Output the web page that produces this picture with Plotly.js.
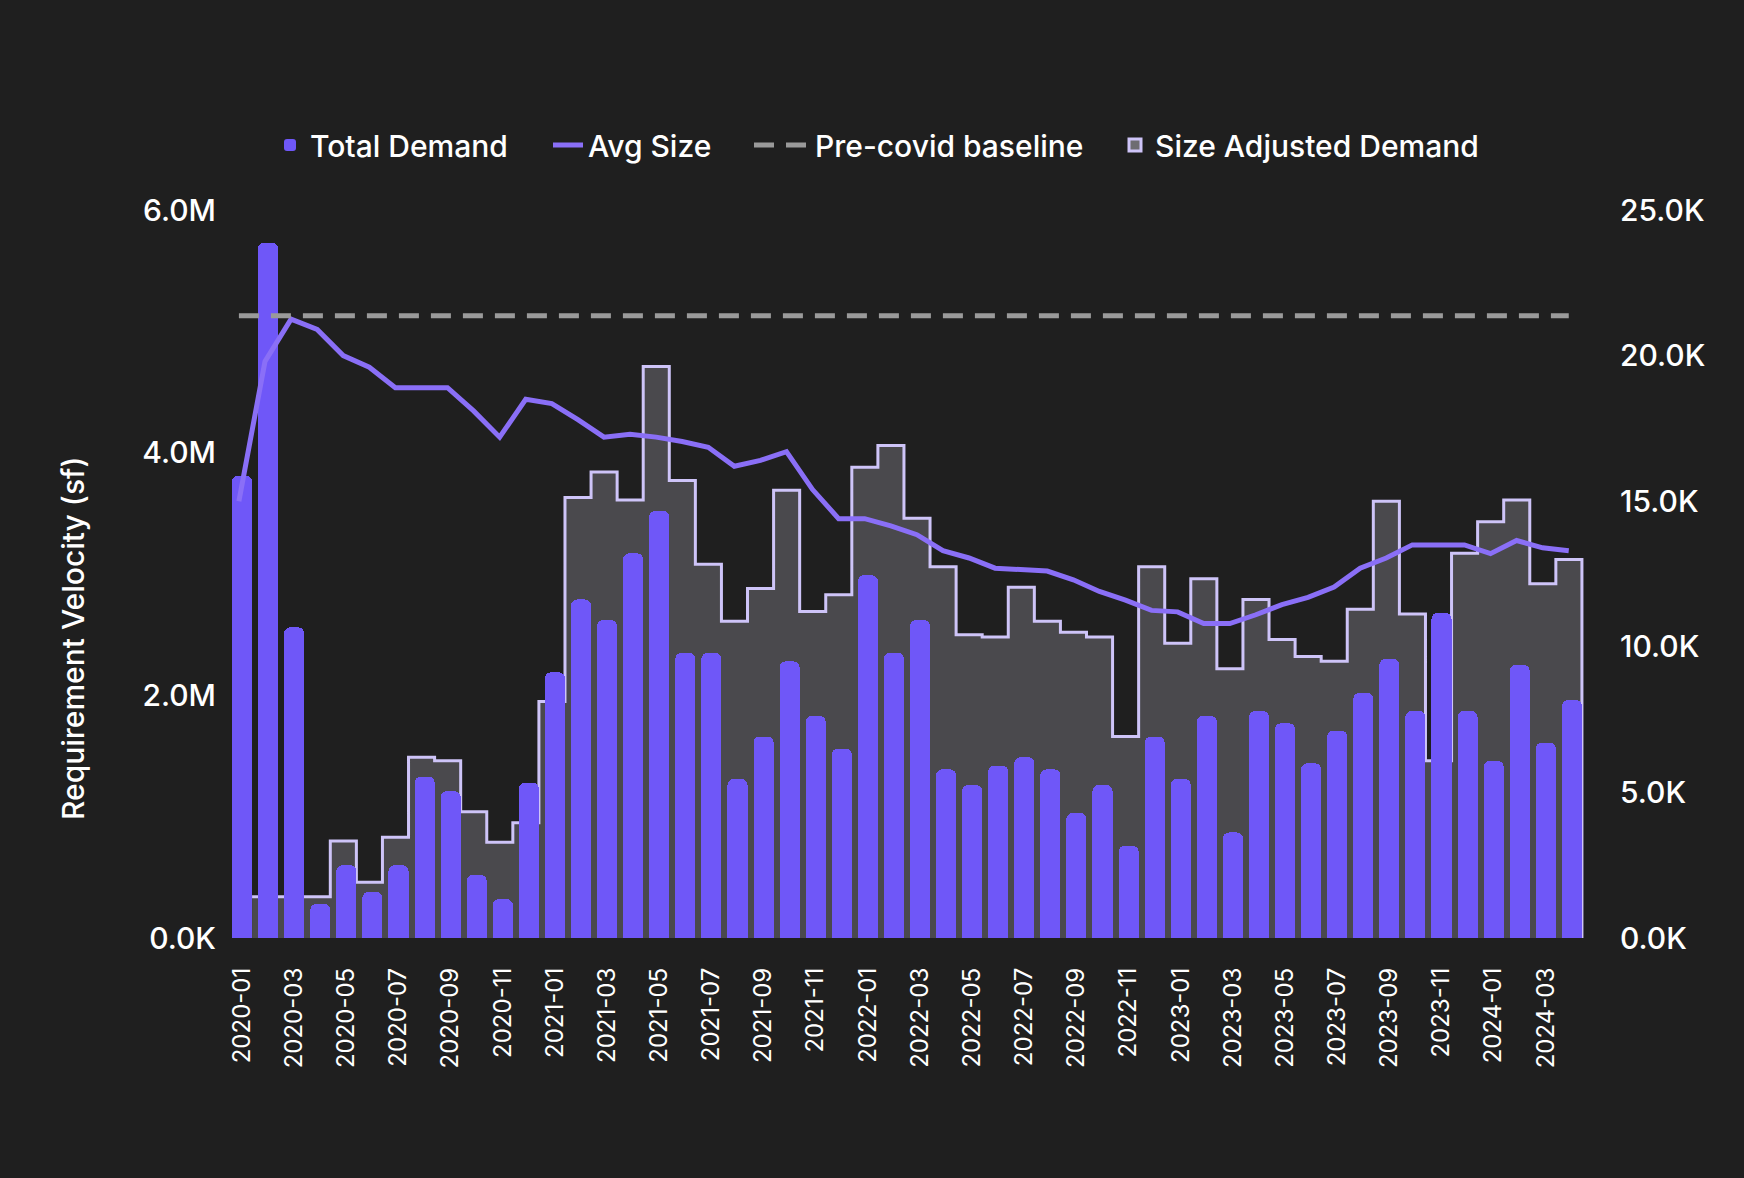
<!DOCTYPE html>
<html>
<head>
<meta charset="utf-8">
<script src="https://cdn.plot.ly/plotly-3.0.1.min.js"></script>
<style>
  html, body { margin: 0; padding: 0; background: #1f1f1f; }
  #chart { width: 1744px; height: 1178px; }
</style>
</head>
<body>
<div id="chart"></div>
<script>
let months = [
  "2020-01", "2020-02", "2020-03", "2020-04", "2020-05", "2020-06", "2020-07", "2020-08", "2020-09", "2020-10", "2020-11", "2020-12",
  "2021-01", "2021-02", "2021-03", "2021-04", "2021-05", "2021-06", "2021-07", "2021-08", "2021-09", "2021-10", "2021-11", "2021-12",
  "2022-01", "2022-02", "2022-03", "2022-04", "2022-05", "2022-06", "2022-07", "2022-08", "2022-09", "2022-10", "2022-11", "2022-12",
  "2023-01", "2023-02", "2023-03", "2023-04", "2023-05", "2023-06", "2023-07", "2023-08", "2023-09", "2023-10", "2023-11", "2023-12",
  "2024-01", "2024-02", "2024-03", "2024-04"
];

// total demand, millions of sf
let totalDemand = [
  3.81, 5.73, 2.56, 0.28, 0.60, 0.38, 0.60, 1.33, 1.21, 0.52, 0.32, 1.28,
  2.19, 2.79, 2.62, 3.17, 3.52, 2.35, 2.35, 1.31, 1.66, 2.28, 1.83, 1.56,
  2.99, 2.35, 2.62, 1.39, 1.26, 1.42, 1.49, 1.39, 1.03, 1.26, 0.76, 1.66,
  1.31, 1.83, 0.87, 1.87, 1.77, 1.44, 1.71, 2.02, 2.30, 1.87, 2.68, 1.87,
  1.46, 2.25, 1.61, 1.96
];

// size adjusted demand, millions of sf
let sizeAdjusted = [
  0.34, 0.34, 0.34, 0.34, 0.80, 0.46, 0.83, 1.49, 1.46, 1.04, 0.79, 0.95,
  1.95, 3.63, 3.84, 3.61, 4.71, 3.77, 3.08, 2.61, 2.88, 3.69, 2.69, 2.83,
  3.88, 4.06, 3.46, 3.06, 2.50, 2.48, 2.89, 2.61, 2.52, 2.48, 1.66, 3.06,
  2.43, 2.96, 2.22, 2.79, 2.46, 2.32, 2.28, 2.71, 3.60, 2.67, 1.46, 3.17,
  3.43, 3.61, 2.92, 3.12
];

// average requirement size, thousands of sf
let avgSize = [
  15.0, 19.8, 21.25, 20.9, 20.0, 19.6, 18.9, 18.9, 18.9, 18.1, 17.2, 18.5,
  18.35, 17.8, 17.2, 17.3, 17.2, 17.05, 16.85, 16.2, 16.4, 16.7, 15.4, 14.4,
  14.4, 14.15, 13.85, 13.3, 13.05, 12.7, 12.65, 12.6, 12.3, 11.9, 11.6, 11.25,
  11.2, 10.8, 10.8, 11.1, 11.45, 11.7, 12.05, 12.7, 13.05, 13.5, 13.5, 13.5,
  13.2, 13.65, 13.4, 13.3
];

let preCovidBaseline = 21.37; // thousands of sf

let leftTicks = [0, 2, 4, 6];
let leftTickText = ["0.0K", "2.0M", "4.0M", "6.0M"];
let rightTicks = [0, 5, 10, 15, 20, 25];
let rightTickText = ["0.0K", "5.0K", "10.0K", "15.0K", "20.0K", "25.0K"];

let font = "Inter, Lato, sans-serif";
let idx = months.map((m, i) => i);

// steps change at the right edge of each bar
let barWidth = 0.77;
let stepX = idx.map((i) => i + barWidth / 2);
let stepY = sizeAdjusted.map((v) => v * 1e6);
stepX.push(stepX[stepX.length - 1]);
stepY.push(0);

let lineX = idx.map((i) => i - 0.12);
let tickIdx = idx.filter((i) => i % 2 === 0);

let traces = [
  {
    type: "bar",
    name: "Total Demand",
    legend: "legend",
    x: idx,
    y: totalDemand.map((v) => v * 1e6),
    width: barWidth,
    yaxis: "y2",
    marker: { color: "#6f57f8", cornerradius: 6, line: { width: 0 } },
    hoverinfo: "skip",
  },
  {
    type: "scatter",
    mode: "lines",
    name: "Avg Size",
    legend: "legend2",
    x: lineX,
    y: avgSize.map((v) => v * 1000),
    yaxis: "y3",
    line: { color: "#8a6ff7", width: 5 },
    hoverinfo: "skip",
  },
  {
    type: "scatter",
    mode: "lines",
    name: "Pre-covid baseline",
    legend: "legend3",
    x: lineX,
    y: months.map(() => preCovidBaseline * 1000),
    yaxis: "y3",
    line: { color: "#9a9a9a", width: 5, dash: "20px,12px" },
    hoverinfo: "skip",
  },
  {
    type: "scatter",
    mode: "lines",
    name: "Size Adjusted Demand",
    showlegend: false,
    x: stepX,
    y: stepY,
    yaxis: "y",
    line: { color: "#cec4f8", width: 3, shape: "vh" },
    fill: "tozeroy",
    fillcolor: "#4a494d",
    hoverinfo: "skip",
  },
  {
    // legend key for the step area
    type: "bar",
    name: "Size Adjusted Demand",
    legend: "legend4",
    x: [null],
    y: [null],
    yaxis: "y",
    marker: { color: "#6e6d71", line: { color: "#cec4f8", width: 3 } },
    hoverinfo: "skip",
  },
];

function legendAt(px, itemwidth) {
  return {
    orientation: "h",
    xref: "container",
    yref: "container",
    x: px / 1744,
    xanchor: "left",
    y: 1 - 145 / 1178,
    yanchor: "middle",
    itemwidth: itemwidth,
    font: { family: font, size: 30, weight: 500, color: "#ffffff" },
    bgcolor: "rgba(0,0,0,0)",
    borderwidth: 0,
  };
}

let layout = {
  width: 1744,
  height: 1178,
  paper_bgcolor: "#1f1f1f",
  plot_bgcolor: "#1f1f1f",
  font: { family: font, color: "#ffffff", size: 22 },
  margin: { l: 229, r: 133, t: 210, b: 240 },
  bargap: 0,
  showlegend: true,
  legend: legendAt(270, 30),
  legend2: legendAt(548, 30),
  legend3: legendAt(749, 56),
  legend4: legendAt(1115, 30),
  xaxis: {
    range: [-0.5, 52.5],
    tickmode: "array",
    tickvals: tickIdx,
    ticktext: tickIdx.map((i) => months[i]),
    tickangle: -90,
    tickfont: { family: font, size: 24, color: "#ffffff" },
    ticklabelstandoff: 24,
    showgrid: false,
    zeroline: false,
    showline: false,
    ticks: "",
  },
  yaxis: {
    range: [0, 6e6],
    tickmode: "array",
    tickvals: leftTicks.map((v) => v * 1e6),
    ticktext: leftTickText,
    tickfont: { family: font, size: 30, weight: 500, color: "#ffffff" },
    ticklabelstandoff: 12,
    showgrid: false,
    zeroline: false,
    showline: false,
    ticks: "",
  },
  yaxis2: {
    range: [0, 6e6],
    overlaying: "y",
    visible: false,
  },
  yaxis3: {
    range: [0, 25000],
    overlaying: "y",
    side: "right",
    tickmode: "array",
    tickvals: rightTicks.map((v) => v * 1000),
    ticktext: rightTickText,
    tickfont: { family: font, size: 30, weight: 500, color: "#ffffff" },
    ticklabelstandoff: 8,
    showgrid: false,
    zeroline: false,
    showline: false,
    ticks: "",
  },
  annotations: [
    {
      text: "Requirement Velocity (sf)",
      xref: "paper",
      yref: "paper",
      x: (73 - 229) / 1382,
      y: (938 - 638) / 728,
      xanchor: "center",
      yanchor: "middle",
      textangle: -90,
      showarrow: false,
      font: { family: font, size: 30, weight: 500, color: "#ffffff" },
    },
  ],
};

Plotly.newPlot("chart", traces, layout, { displayModeBar: false, staticPlot: true });
</script>
</body>
</html>
